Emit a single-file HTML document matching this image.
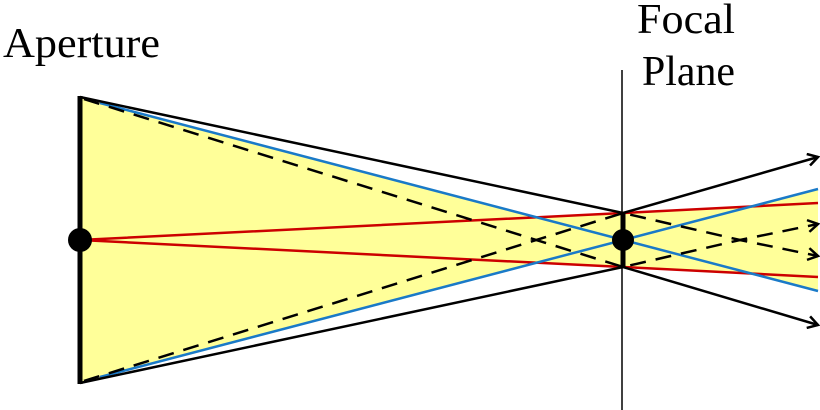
<!DOCTYPE html>
<html><head><meta charset="utf-8"><style>html,body{margin:0;padding:0;background:#fff}svg{display:block}text{font-family:"Liberation Serif",serif;font-size:42px;fill:#000}</style></head>
<body>
<svg width="820" height="410" viewBox="0 0 820 410">
<defs><marker id="ah" markerWidth="14" markerHeight="14" refX="11" refY="7" orient="auto" markerUnits="userSpaceOnUse"><path d="M1,1 L11,7 L1,13" fill="none" stroke="#000" stroke-width="2.5"/></marker></defs>
<g fill="#ffff99" stroke="none">
<polygon points="80,97 623,267 623,213 80,383"/>
<polygon points="80,97 100,103 623,240 100,377 80,383"/>
<polygon points="80,240 623,213 818,204 818,276 623,267"/>
<polygon points="623,240 818,189 818,291"/>
</g>
<line x1="622" y1="70" x2="622" y2="410" stroke="#000" stroke-width="1.5"/>
<g stroke="#cc0000" stroke-width="2.5" fill="none">
<polyline points="80,240 623,213 818,203"/><polyline points="80,240 623,267 818,277"/></g>
<g stroke="#1a7ac8" stroke-width="2.5" fill="none">
<line x1="100" y1="103" x2="818" y2="291"/><line x1="100" y1="377" x2="818" y2="189"/></g>
<g stroke="#000" stroke-width="2.5" fill="none" stroke-dasharray="16,10">
<polyline points="84,99 623,267 740,240 818,224" marker-end="url(#ah)"/>
<polyline points="84,381 623,213 740,240 818,256" marker-end="url(#ah)"/></g>
<g stroke="#000" stroke-width="2.5" fill="none">
<polyline points="80,97 623,213 818,157" marker-end="url(#ah)"/>
<polyline points="80,383 623,267 818,325" marker-end="url(#ah)"/></g>
<line x1="80" y1="96" x2="80" y2="384" stroke="#000" stroke-width="5"/>
<line x1="623" y1="212" x2="623" y2="268" stroke="#000" stroke-width="5"/>
<circle cx="80" cy="240" r="12" fill="#000"/>
<circle cx="623" cy="240" r="11" fill="#000"/>
<text x="3" y="57" textLength="157" lengthAdjust="spacingAndGlyphs">Aperture</text>
<text x="637" y="33" textLength="98" lengthAdjust="spacingAndGlyphs">Focal</text>
<text x="642" y="85" textLength="93" lengthAdjust="spacingAndGlyphs">Plane</text>
</svg>
</body></html>
